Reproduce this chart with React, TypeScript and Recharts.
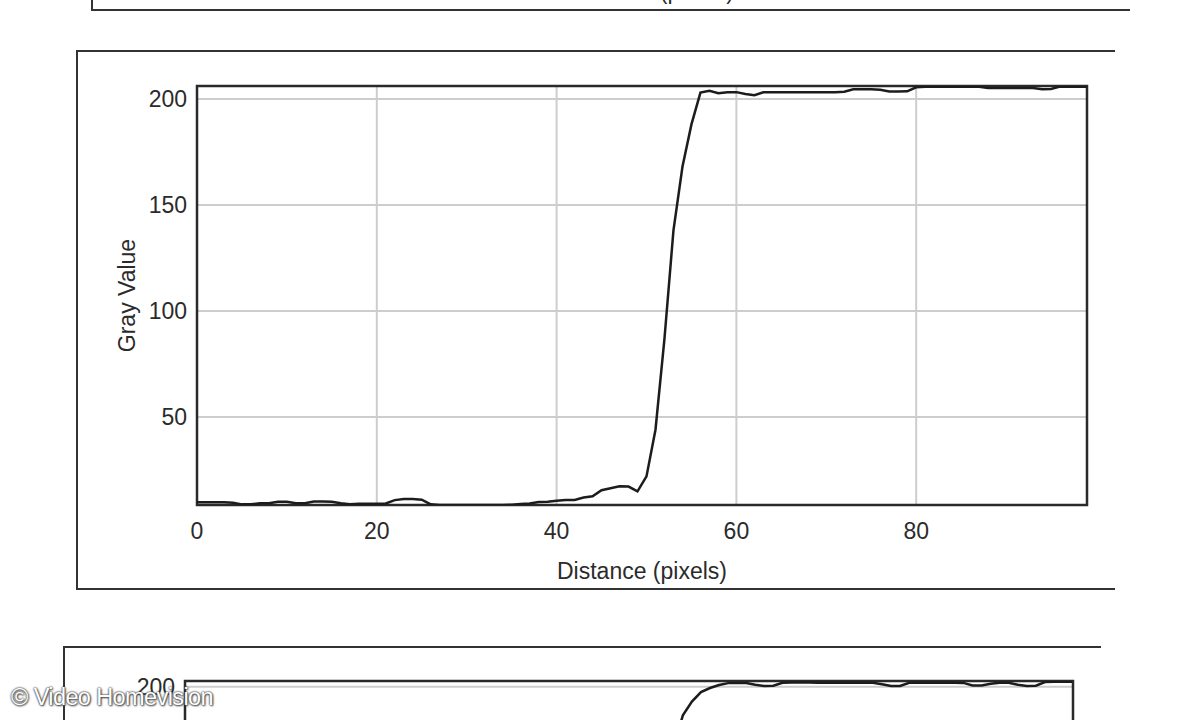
import React from 'react';
import {
  LineChart, Line, XAxis, YAxis, CartesianGrid, ReferenceArea,
} from 'recharts';

// ── Data ──────────────────────────────────────────────────────────────────────
const distanceMain = [
  0, 1, 2, 3, 4, 5, 6, 7, 8, 9, 10, 11, 12, 13, 14, 15, 16, 17, 18, 19,
  20, 21, 22, 23, 24, 25, 26, 27, 28, 29, 30, 31, 32, 33, 34, 35, 36, 37, 38, 39,
  40, 41, 42, 43, 44, 45, 46, 47, 48, 49, 50, 51, 52, 53, 54, 55, 56, 57, 58, 59,
  60, 61, 62, 63, 64, 65, 66, 67, 68, 69, 70, 71, 72, 73, 74, 75, 76, 77, 78, 79,
  80, 81, 82, 83, 84, 85, 86, 87, 88, 89, 90, 91, 92, 93, 94, 95, 96, 97, 98, 99,
];
const grayMain = [
  9.8, 9.8, 9.8, 9.8, 9.6, 8.8, 8.8, 9.3, 9.3, 10.0, 10.0, 9.3, 9.3, 10.1, 10.1, 10.0, 9.3, 8.8, 9.1, 9.1,
  9.1, 9.2, 10.8, 11.3, 11.3, 11.0, 8.8, 8.5, 8.5, 8.5, 8.5, 8.5, 8.5, 8.5, 8.5, 8.6, 9.0, 9.2, 9.9, 10.0,
  10.5, 10.8, 10.9, 12.0, 12.6, 15.5, 16.4, 17.3, 17.2, 14.9, 22, 44, 87, 138, 168, 188, 203, 203.8, 202.7, 203.2,
  203.2, 202.3, 201.8, 203.1, 203.1, 203.1, 203.1, 203.1, 203.1, 203.1, 203.1, 203.2, 203.4, 204.6, 204.6, 204.6, 204.3, 203.5, 203.5, 203.6,
  205.5, 205.8, 205.8, 205.8, 205.8, 205.8, 205.8, 205.7, 205.2, 205.2, 205.2, 205.2, 205.2, 205.1, 204.6, 204.7, 205.8, 205.8, 205.8, 205.8,
];

// lower profile (only its top edge is visible in the crop)
const distanceLower = [
  0, 1, 2, 3, 4, 5, 6, 7, 8, 9, 10, 11, 12, 13, 14, 15, 16, 17, 18, 19,
  20, 21, 22, 23, 24, 25, 26, 27, 28, 29, 30, 31, 32, 33, 34, 35, 36, 37, 38, 39,
  40, 41, 42, 43, 44, 45, 46, 47, 48, 49, 50, 51, 52, 53, 54, 55, 56, 57, 58, 59,
  60, 61, 62, 63, 64, 65, 66, 67, 68, 69, 70, 71, 72, 73, 74, 75, 76, 77, 78, 79,
  80, 81, 82, 83, 84, 85, 86, 87, 88, 89, 90, 91, 92, 93, 94, 95, 96, 97, 98,
];
const grayLower = [
  10.5, 10.5, 10.2, 9.6, 9.6, 10.1, 10.4, 9.8, 9.2, 9.2, 9.7, 10.3, 10.3, 9.5, 9.0, 9.0, 9.4, 10.0, 10.0, 9.6,
  9.3, 9.3, 9.8, 10.6, 10.9, 10.4, 9.5, 9.0, 8.8, 8.8, 8.9, 9.0, 9.0, 9.1, 9.3, 9.6, 10.0, 10.4, 10.8, 11.0,
  11.5, 12.2, 13.0, 14.0, 15.2, 16.0, 16.8, 17.0, 16.5, 18.5, 30, 62, 108, 148, 172, 186.5, 193, 197.5, 199.4, 200.8,
  201.7, 201.8, 201.8, 200.9, 200.3, 200.5, 201.9, 202.0, 202.0, 202.0, 201.9, 201.9, 201.9, 201.9, 201.9, 201.9, 201.9, 201.2, 200.3, 200.4,
  201.9, 201.9, 201.9, 201.9, 201.9, 201.9, 201.8, 200.6, 200.6, 201.4, 201.9, 201.9, 200.9, 200.4, 200.5, 202.2, 202.4, 202.4, 202.4,
];

const xTicks = [0, 20, 40, 60, 80];
const yTicks = [50, 100, 150, 200];
const yTicksLowerVisible = [200];

const mainData = distanceMain.map((d, i) => ({ d, v: grayMain[i] }));
const lowerData = distanceLower.map((d, i) => ({ d, v: grayLower[i] }));

const FONT = "'Liberation Sans', Arial, sans-serif";
const TEXT = '#2b2b2b';
const tickStyle = { fontSize: 23, fill: TEXT, fontFamily: FONT };

function ProfilePlot({ data, xMax, yMin, yMax, width, height, margin, cropped }: {
  data: { d: number; v: number }[];
  xMax: number; yMin: number; yMax: number;
  width: number; height: number;
  margin: { top: number; left: number; right: number; bottom: number };
  cropped?: boolean;
}) {
  return (
    <LineChart width={width} height={height} data={data} margin={margin}>
      <CartesianGrid stroke="#cdcdcd" strokeWidth={2} />
      <XAxis
        dataKey="d" type="number" domain={[0, xMax]} ticks={xTicks}
        allowDataOverflow height={132} axisLine={false} tickLine={false}
        tickSize={0} tickMargin={18} tick={cropped ? false : tickStyle}
        label={cropped ? undefined : { value: 'Distance (pixels)', position: 'center', style: { fontSize: 23, fill: TEXT, fontFamily: FONT } }}
      />
      <YAxis
        type="number" domain={[yMin, yMax]} ticks={cropped ? yTicksLowerVisible : yTicks}
        allowDataOverflow width={140} axisLine={false} tickLine={false}
        tickSize={0} tickMargin={10} tick={tickStyle}
        label={cropped ? undefined : { value: 'Gray Value', angle: -90, position: 'center', style: { fontSize: 23, fill: TEXT, fontFamily: FONT, textAnchor: 'middle' } }}
      />
      <Line
        type="linear" dataKey="v" stroke="#1c1c1c" strokeWidth={2.5}
        dot={false} activeDot={false} isAnimationActive={false}
      />
      <ReferenceArea
        x1={0} x2={xMax} y1={yMin} y2={yMax}
        fill="none" stroke="#2a2a2a" strokeWidth={2.5} ifOverflow="visible"
      />
    </LineChart>
  );
}

export default function App() {
  return (
    <div style={{
      position: 'fixed', left: 0, top: 0, width: 1200, height: 720,
      overflow: 'hidden', background: '#fff',
    }}>
      {/* frame of the plot above (only its lower edge is visible) */}
      <div style={{
        position: 'absolute', left: 91, top: -120, width: 1037, height: 129,
        borderLeft: '2px solid #333', borderBottom: '2px solid #333',
      }} />
      <div style={{
        position: 'absolute', left: 555, top: -22, width: 188, textAlign: 'center',
        fontFamily: FONT, fontSize: 23, color: TEXT, whiteSpace: 'nowrap',
      }}>
        Distance (pixels)
      </div>

      {/* main frame */}
      <div style={{
        position: 'absolute', left: 76, top: 50, width: 1037, height: 536,
        borderLeft: '2px solid #333', borderTop: '2px solid #333', borderBottom: '2px solid #333',
      }} />
      <div style={{ position: 'absolute', left: 0, top: 0 }}>
        <ProfilePlot
          data={mainData} xMax={99} yMin={8.5} yMax={206.1}
          width={1200} height={720}
          margin={{ top: 86, left: 57, right: 113, bottom: 83 }}
        />
      </div>

      {/* frame of the plot below (only its top is visible) */}
      <div style={{
        position: 'absolute', left: 63, top: 646, width: 1036, height: 300,
        borderLeft: '2px solid #333', borderTop: '2px solid #333',
      }} />
      <div style={{ position: 'absolute', left: 0, top: 0 }}>
        <ProfilePlot
          data={lowerData} xMax={98.1} yMin={8.5} yMax={202.7}
          width={1200} height={1225}
          margin={{ top: 681, left: 45, right: 127, bottom: 0 }}
          cropped
        />
      </div>

      {/* watermark */}
      <div style={{
        position: 'absolute', left: 11, top: 684, whiteSpace: 'nowrap',
        fontFamily: "'Liberation Sans Narrow', 'Arial Narrow', 'Liberation Sans', sans-serif",
        fontSize: 23.5, color: '#fff', letterSpacing: -0.6,
        textShadow: '0 0 2px #444, 0 0 2px #444, 1px 1px 2px #555',
      }}>
        © Video Homevision
      </div>
    </div>
  );
}
